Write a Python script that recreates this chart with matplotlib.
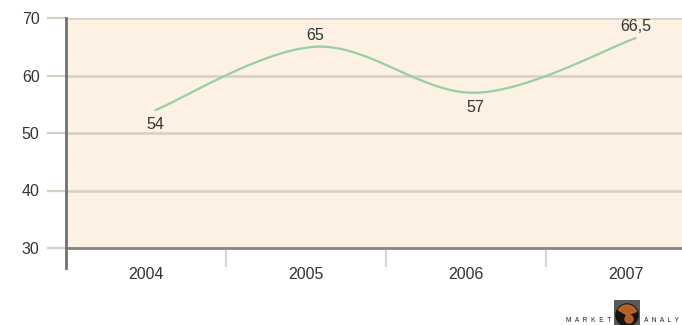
import numpy as np
import matplotlib
matplotlib.use("Agg")
import matplotlib.pyplot as plt
from matplotlib.patches import Circle, Wedge

# Series
years = ["2004", "2005", "2006", "2007"]
values = [54, 65, 57, 66.5]
value_labels = ["54", "65", "57", "66,5"]
label_side = ["below", "above", "below", "above"]
y_ticks = [30, 40, 50, 60, 70]

BG = "#fcf1e3"
GRID = "#d8cec3"
AXIS = "#707070"
LINE = "#96cfa2"
TEXT = "#333333"

plt.rcParams["font.family"] = ["Liberation Sans", "DejaVu Sans"]


def smooth_curve(x, y, n=40):
    """Bezier smoothing through every point (Catmull-Rom style tangents)."""
    x = np.asarray(x, float)
    y = np.asarray(y, float)
    px = np.concatenate([[x[0]], x, [x[-1]]])
    py = np.concatenate([[y[0]], y, [y[-1]]])
    xs, ys = [], []
    t = np.linspace(0, 1, n)
    for i in range(len(x) - 1):
        p0 = np.array([px[i + 1], py[i + 1]])
        p3 = np.array([px[i + 2], py[i + 2]])
        c1 = p0 + (np.array([px[i + 2], py[i + 2]]) - np.array([px[i], py[i]])) / 6
        c2 = p3 - (np.array([px[i + 3], py[i + 3]]) - np.array([px[i + 1], py[i + 1]])) / 6
        b = ((1 - t) ** 3)[:, None] * p0 + (3 * (1 - t) ** 2 * t)[:, None] * c1 \
            + (3 * (1 - t) * t ** 2)[:, None] * c2 + (t ** 3)[:, None] * p3
        xs.append(b[:, 0])
        ys.append(b[:, 1])
    return np.concatenate(xs), np.concatenate(ys)


fig = plt.figure(figsize=(6.82, 3.25), dpi=100)
W, H = 682, 325
ax = fig.add_axes([66 / W, (H - 248) / H, (682 - 66) / W, (248 - 18) / H])
ax.set_facecolor(BG)

pos = np.arange(len(years))
line_x = pos + 0.06

sx, sy = smooth_curve(line_x, values)
ax.plot(sx, sy, color=LINE, lw=1.6, solid_capstyle="round", zorder=3)

for x, v, lab, side in zip(line_x, values, value_labels, label_side):
    if side == "above":
        ax.annotate(lab, (x, v), xytext=(0, 3), textcoords="offset points",
                    ha="center", va="bottom", fontsize=11.5, color=TEXT)
    else:
        ax.annotate(lab, (x, v), xytext=(0, -5), textcoords="offset points",
                    ha="center", va="top", fontsize=11.5, color=TEXT)

ax.set_xlim(-0.5, 3.35)
ax.set_ylim(30, 70)
ax.set_yticks(y_ticks)
ax.set_yticklabels([str(t) for t in y_ticks])
ax.yaxis.grid(True, color=GRID, lw=1.8)
ax.set_axisbelow(True)

ax.tick_params(axis="y", length=14, width=1.6, color=GRID, pad=5,
               labelsize=11.5, labelcolor=TEXT)
ax.set_xticks(pos)
ax.set_xticklabels(years)
ax.set_xticks(pos[:-1] + 0.5, minor=True)
ax.tick_params(axis="x", which="major", length=0, pad=14,
               labelsize=11.5, labelcolor=TEXT)
ax.tick_params(axis="x", which="minor", length=14, width=1.6, color="#d6d6d6")

for s in ["top", "right", "left"]:
    ax.spines[s].set_visible(False)
ax.spines["bottom"].set_color("#8a8480")
ax.spines["bottom"].set_linewidth(2)

# left axis runs a little below the baseline
ax.plot([0, 0], [-0.085, 1], transform=ax.transAxes, color=AXIS, lw=2,
        clip_on=False, zorder=4)

# small logo in the corner
fig.text(611 / W, (H - 321) / H, "M  A  R  K  E  T", fontsize=4.8, color="#222222",
         ha="right", va="center")
fig.text(644 / W, (H - 321) / H, "A  N  A  L  Y", fontsize=4.8, color="#222222",
         ha="left", va="center")
logo = fig.add_axes([614 / W, 0, 26 / W, 25 / H])
logo.set_xlim(0, 26)
logo.set_ylim(0, 25)
logo.set_facecolor("#5a5a5a")
logo.set_xticks([])
logo.set_yticks([])
for s in logo.spines.values():
    s.set_visible(False)
logo.add_patch(Circle((13, 10), 11, color="#151515"))
logo.add_patch(Wedge((13, 10), 10, 20, 150, color="#c9692a", alpha=0.9))
logo.add_patch(Circle((15, 6), 4, color="#c9692a", alpha=0.85))

fig.savefig("out.png", dpi=100, facecolor="white")
